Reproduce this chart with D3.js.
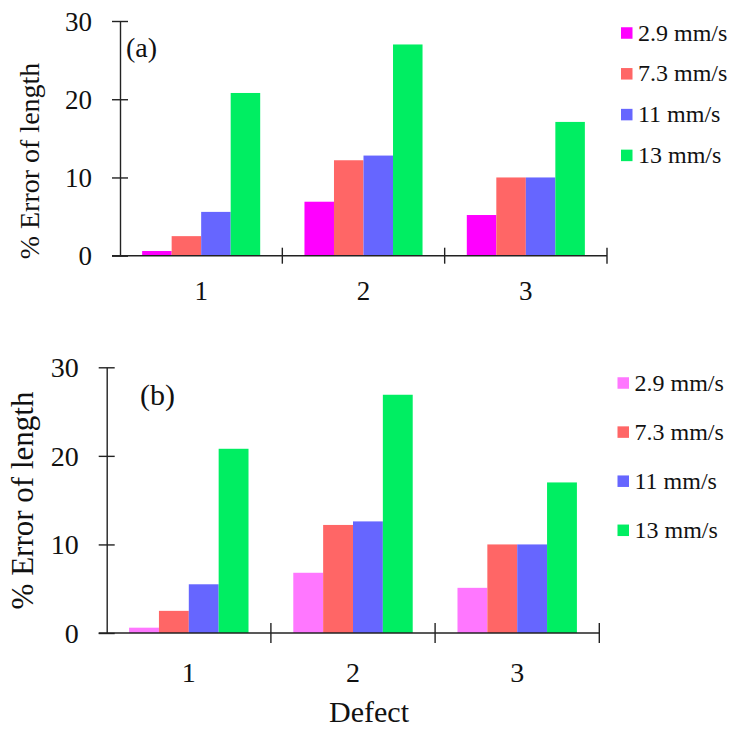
<!DOCTYPE html>
<html>
<head>
<meta charset="utf-8">
<script src="https://cdn.jsdelivr.net/npm/d3@7"></script>
<style>
    body { margin: 0; background: white; }
    svg { display: block; }
    text { font-family: "Liberation Serif", "Times New Roman", serif; fill: #111; }
</style>
</head>
<body>
<div id="chart"></div>
<script>
// DATA
var defects = ["1", "2", "3"];
var speeds = ["2.9 mm/s", "7.3 mm/s", "11 mm/s", "13 mm/s"];
var yTicks = [0, 10, 20, 30];

// % error per defect, one value per speed (panel a)
var errorA1 = [0.6, 2.5, 5.6, 20.8];
var errorA2 = [6.9, 12.2, 12.8, 27.0];
var errorA3 = [5.2, 10.0, 10.0, 17.1];

// panel b
var errorB1 = [0.6, 2.5, 5.5, 20.8];
var errorB2 = [6.8, 12.2, 12.6, 26.9];
var errorB3 = [5.1, 10.0, 10.0, 17.0];

var colorsA = ["#FF00FF", "#FF6666", "#6666FF", "#00EE62"];
var colorsB = ["#FF77FF", "#FF6666", "#6666FF", "#00EE62"];

var svg = d3.select("#chart")
    .append("svg")
        .attr("width", 732)
        .attr("height", 729);

// PANELS
function drawPanel(p) {
    var g = svg.append("g");
    var rows = [p.values1, p.values2, p.values3];

    var x0 = d3.scaleBand()
        .domain(defects)
        .range([p.left, p.right]);
    // Excel style: gap width 150%
    var x1 = d3.scaleBand()
        .domain(speeds)
        .range([0, x0.bandwidth()])
        .paddingInner(0)
        .paddingOuter(0.75);
    var y = d3.scaleLinear()
        .domain([0, 30])
        .range([p.bottom, p.top]);

    // Bars
    defects.forEach(function(d, i) {
        g.selectAll(null)
            .data(rows[i])
            .enter()
            .append("rect")
                .attr("x", (v, j) => x0(d) + x1(speeds[j]))
                .attr("y", v => y(v))
                .attr("width", x1.bandwidth())
                .attr("height", v => y(0) - y(v))
                .attr("fill", (v, j) => p.colors[j]);
    });

    // Y axis (ticks cross the line)
    var yAxis = g.append("g")
        .attr("transform", "translate(" + p.left + ",0)")
        .call(d3.axisLeft(y)
            .tickValues(yTicks)
            .tickSize(p.tick)
            .tickSizeOuter(0)
            .tickPadding(p.tickPad));
    yAxis.select(".domain").attr("stroke", "#222").attr("stroke-width", 1.4);
    yAxis.selectAll(".tick line")
        .attr("x1", p.tick)
        .attr("stroke", "#222")
        .attr("stroke-width", 1.4);
    yAxis.selectAll(".tick text")
        .style("font-size", p.tickFont + "px")
        .attr("dy", "0.34em");

    // X axis line
    g.append("line")
        .attr("x1", p.left - p.tick)
        .attr("x2", p.right)
        .attr("y1", y(0))
        .attr("y2", y(0))
        .attr("stroke", "#222")
        .attr("stroke-width", 1.4);

    // Category dividers
    var edges = defects.map(d => x0(d) + x0.bandwidth());
    g.selectAll(null)
        .data(edges)
        .enter()
        .append("line")
            .attr("x1", d => d)
            .attr("x2", d => d)
            .attr("y1", y(0) - p.xTick)
            .attr("y2", y(0) + p.xTick)
            .attr("stroke", "#222")
            .attr("stroke-width", 1.4);

    // Category labels
    g.selectAll(null)
        .data(defects)
        .enter()
        .append("text")
            .attr("x", d => x0(d) + x0.bandwidth() / 2)
            .attr("y", y(0) + p.xLabelDrop)
            .attr("text-anchor", "middle")
            .style("font-size", p.tickFont + "px")
            .text(d => d);

    // Y title
    g.append("text")
        .attr("transform", "translate(" + p.titleX + "," + p.titleY + ") rotate(-90)")
        .attr("text-anchor", "middle")
        .style("font-size", p.titleFont + "px")
        .text("% Error of length");

    // Panel tag
    g.append("text")
        .attr("x", p.tagX)
        .attr("y", p.tagY)
        .style("font-size", p.tagFont + "px")
        .text(p.tag);

    // Legend
    var leg = g.selectAll(null)
        .data(speeds)
        .enter()
        .append("g")
            .attr("transform", (d, i) => "translate(" + p.legX + "," + (p.legY + i * p.legStep) + ")");
    leg.append("rect")
        .attr("x", 0)
        .attr("y", -5.75)
        .attr("width", 11.5)
        .attr("height", 11.5)
        .attr("fill", (d, i) => p.colors[i]);
    leg.append("text")
        .attr("x", 17)
        .attr("y", 7.5)
        .style("font-size", "24px")
        .text(d => d);

    return x0;
}

drawPanel({
    values1: errorA1, values2: errorA2, values3: errorA3, colors: colorsA,
    left: 120, right: 607, top: 21, bottom: 255.7,
    tick: 8, tickPad: 20, xTick: 8, tickFont: 27, xLabelDrop: 43.8,
    titleX: 38.5, titleY: 161, titleFont: 28,
    tag: "(a)", tagX: 126, tagY: 57, tagFont: 28,
    legX: 621, legY: 33, legStep: 40.8
});

drawPanel({
    values1: errorB1, values2: errorB2, values3: errorB3, colors: colorsB,
    left: 106.7, right: 599.3, top: 367.3, bottom: 633,
    tick: 8, tickPad: 20, xTick: 10, tickFont: 28, xLabelDrop: 48.7,
    titleX: 33, titleY: 500.5, titleFont: 31,
    tag: "(b)", tagX: 140, tagY: 405, tagFont: 30,
    legX: 617.5, legY: 383, legStep: 49.1
});

// X title
svg.append("text")
    .attr("x", 369)
    .attr("y", 721.7)
    .attr("text-anchor", "middle")
    .style("font-size", "30px")
    .text("Defect");
</script>
</body>
</html>
